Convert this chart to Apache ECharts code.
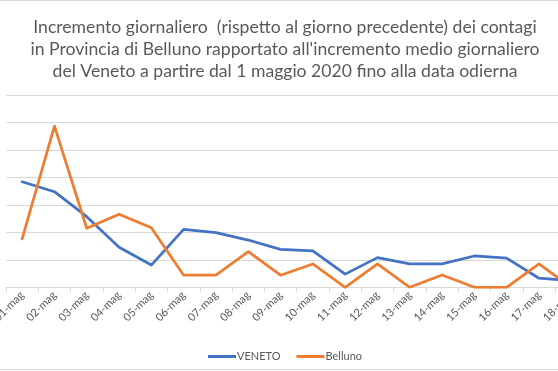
<!DOCTYPE html>
<html>
<head>
<meta charset="utf-8">
<script src="https://cdn.jsdelivr.net/npm/echarts@6/dist/echarts.min.js"></script>
<style>
html,body{margin:0;padding:0;background:#fff;}
#c{width:558px;height:371px;}
</style>
</head>
<body>
<div id="c"></div>
<script>
const categories = ['01-mag','02-mag','03-mag','04-mag','05-mag','06-mag','07-mag','08-mag','09-mag','10-mag','11-mag','12-mag','13-mag','14-mag','15-mag','16-mag','17-mag','18-mag'];
const veneto = [3.84, 3.48, 2.57, 1.46, 0.81, 2.11, 1.99, 1.72, 1.38, 1.33, 0.48, 1.08, 0.85, 0.85, 1.14, 1.06, 0.33, 0.25];
const belluno = [1.76, 5.87, 2.15, 2.66, 2.17, 0.44, 0.44, 1.30, 0.44, 0.85, 0, 0.85, 0, 0.45, 0, 0, 0.85, 0];
const titleText = "Incremento giornaliero  (rispetto al giorno precedente) dei contagi\nin Provincia di Belluno rapportato all'incremento medio giornaliero\ndel Veneto a partire dal 1 maggio 2020 fino alla data odierna";

const FONT = 'Lato, "Open Sans", sans-serif';
const chart = echarts.init(document.getElementById('c'));
chart.setOption({
  animation: false,
  backgroundColor: '#fff',
  title: {
    text: titleText,
    left: 280,
    top: 11,
    textAlign: 'center',
    textStyle: { color: '#595959', fontSize: 17.6, fontWeight: 'normal', fontFamily: FONT, lineHeight: 22, align: 'center' }
  },
  legend: {
    data: ['VENETO', 'Belluno'],
    left: 203,
    top: 346,
    icon: 'rect',
    itemWidth: 28,
    itemHeight: 3,
    itemGap: 16,
    textStyle: { color: '#595959', fontSize: 11, fontFamily: FONT, padding: [0, 0, 0, -4] }
  },
  graphic: [
    { type: 'line', shape: { x1: 0, y1: 0.5, x2: 558, y2: 0.5 }, style: { stroke: '#d9d9d9', lineWidth: 1 } },
    { type: 'line', shape: { x1: 0, y1: 369.5, x2: 558, y2: 369.5 }, style: { stroke: '#d9d9d9', lineWidth: 1 } }
  ],
  grid: { left: 6, top: 95, width: 581.4, height: 192.3, containLabel: false, outerBoundsMode: 'none' },
  xAxis: {
    type: 'category',
    data: categories,
    boundaryGap: true,
    axisLine: { lineStyle: { color: '#d9d9d9', width: 1 } },
    axisTick: { show: true, length: 5, lineStyle: { color: '#d9d9d9' } },
    axisLabel: { rotate: 45, color: '#595959', fontSize: 11, fontFamily: FONT, margin: 6, interval: 0, hideOverlap: false }
  },
  yAxis: {
    type: 'value',
    min: 0, max: 7, interval: 1,
    axisLabel: { show: false },
    axisLine: { show: false },
    axisTick: { show: false },
    splitLine: { lineStyle: { color: '#d9d9d9', width: 1 } }
  },
  series: [
    { name: 'VENETO', type: 'line', data: veneto, symbol: 'none', color: '#4472C4',
      lineStyle: { width: 2.75, color: '#4472C4', cap: 'round', join: 'round' } },
    { name: 'Belluno', type: 'line', data: belluno, symbol: 'none', color: '#ED7D31',
      lineStyle: { width: 2.75, color: '#ED7D31', cap: 'round', join: 'round' } }
  ]
});
</script>
</body>
</html>
